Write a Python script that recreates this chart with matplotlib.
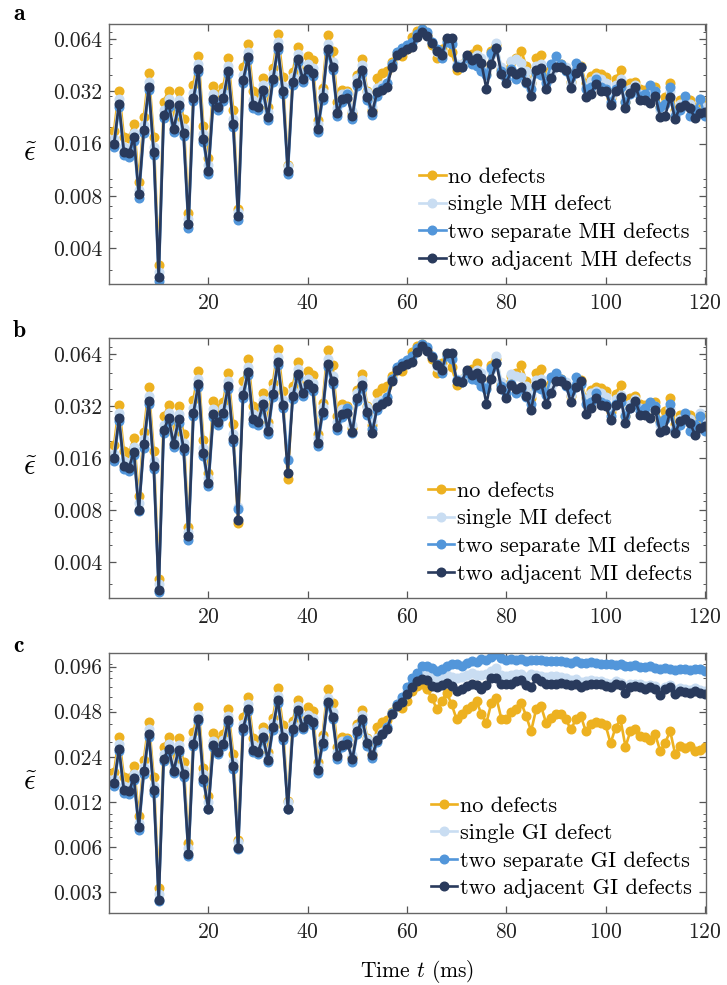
import numpy as np
import matplotlib
matplotlib.use('Agg')
import matplotlib.pyplot as plt
from matplotlib.ticker import FixedLocator, FixedFormatter, LogLocator, NullFormatter

plt.rcParams['font.family'] = 'cmr10'
plt.rcParams['mathtext.fontset'] = 'cm'
plt.rcParams['axes.formatter.use_mathtext'] = True

# time axis (ms)
time_ms = list(range(1, 121))

# no defects (same reference run in all three panels)
no_defects = [
    0.019, 0.0324, 0.0175, 0.0172, 0.0208, 0.0096, 0.0228, 0.0411, 0.0175, 0.0032,
    0.028, 0.0324, 0.022, 0.032, 0.0221, 0.0064, 0.0349, 0.0513, 0.0203, 0.0132,
    0.0344, 0.031, 0.034, 0.0497, 0.0251, 0.0067, 0.0445, 0.0601, 0.032, 0.030,
    0.0381, 0.026, 0.0436, 0.0686, 0.039, 0.0121, 0.0417, 0.0575, 0.040, 0.0513,
    0.0487, 0.022, 0.0334, 0.068, 0.055, 0.028, 0.0327, 0.032, 0.024, 0.0399,
    0.0491, 0.032, 0.025, 0.0381, 0.0408, 0.042, 0.0476, 0.053, 0.051, 0.0565,
    0.066, 0.0712, 0.073, 0.0677, 0.0596, 0.0497, 0.0565, 0.0643, 0.0537, 0.0426,
    0.046, 0.0497, 0.0525, 0.0565, 0.046, 0.0405, 0.0551, 0.0596, 0.0431, 0.0426,
    0.0476, 0.0497, 0.0551, 0.0449, 0.0356, 0.0497, 0.0522, 0.0405, 0.0434, 0.046,
    0.046, 0.0426, 0.0365, 0.0426, 0.045, 0.0356, 0.0395, 0.041, 0.0405, 0.039,
    0.0295, 0.0376, 0.0426, 0.028, 0.0356, 0.0365, 0.033, 0.0325, 0.031, 0.0338,
    0.0262, 0.0298, 0.0356, 0.0251, 0.0285, 0.0275, 0.0285, 0.0262, 0.0268, 0.0278]

# panel a: MH defects
single_mh = [
    0.017, 0.029, 0.0153, 0.015, 0.0185, 0.0087, 0.0205, 0.0365, 0.0154, 0.0029,
    0.0249, 0.029, 0.0207, 0.0286, 0.0196, 0.0059, 0.0312, 0.0458, 0.0183, 0.012,
    0.0308, 0.0278, 0.0312, 0.0448, 0.0221, 0.0065, 0.0398, 0.0537, 0.0286, 0.0276,
    0.0349, 0.0244, 0.0402, 0.0613, 0.0345, 0.0119, 0.0389, 0.0526, 0.0405, 0.0458,
    0.0435, 0.0208, 0.0317, 0.0597, 0.0475, 0.0258, 0.0308, 0.0312, 0.0247, 0.0381,
    0.0454, 0.0317, 0.0261, 0.0337, 0.0349, 0.036, 0.046, 0.053, 0.056, 0.059,
    0.061, 0.067, 0.072, 0.069, 0.062, 0.054, 0.054, 0.063, 0.062, 0.046,
    0.046, 0.051, 0.05, 0.052, 0.05, 0.041, 0.052, 0.061, 0.044, 0.04,
    0.048, 0.049, 0.047, 0.042, 0.036, 0.045, 0.046, 0.037, 0.041, 0.046,
    0.045, 0.044, 0.036, 0.043, 0.044, 0.034, 0.037, 0.039, 0.038, 0.036,
    0.03, 0.035, 0.038, 0.029, 0.033, 0.035, 0.031, 0.03, 0.031, 0.032,
    0.025, 0.027, 0.032, 0.024, 0.027, 0.028, 0.027, 0.025, 0.029, 0.026]
separate_mh = [
    0.0153, 0.0262, 0.0138, 0.0135, 0.0167, 0.0078, 0.0184, 0.0327, 0.0138, 0.0026,
    0.0224, 0.0261, 0.0186, 0.0257, 0.0177, 0.0052, 0.0281, 0.0413, 0.0164, 0.0107,
    0.0277, 0.025, 0.0281, 0.0403, 0.0199, 0.0058, 0.0358, 0.0484, 0.0257, 0.0249,
    0.0314, 0.022, 0.0362, 0.0552, 0.031, 0.0107, 0.035, 0.0473, 0.0365, 0.0413,
    0.0392, 0.0187, 0.0285, 0.0538, 0.0427, 0.0232, 0.0277, 0.031, 0.0223, 0.0343,
    0.0409, 0.0285, 0.0235, 0.0303, 0.0335, 0.036, 0.046, 0.054, 0.057, 0.059,
    0.062, 0.069, 0.073, 0.07, 0.062, 0.056, 0.05, 0.062, 0.06, 0.045,
    0.044, 0.05, 0.046, 0.045, 0.042, 0.04, 0.053, 0.057, 0.042, 0.038,
    0.043, 0.038, 0.04, 0.036, 0.033, 0.041, 0.04, 0.036, 0.046, 0.051,
    0.046, 0.042, 0.039, 0.047, 0.044, 0.033, 0.034, 0.038, 0.034, 0.033,
    0.028, 0.033, 0.034, 0.028, 0.031, 0.033, 0.03, 0.031, 0.035, 0.032,
    0.026, 0.027, 0.034, 0.023, 0.025, 0.030, 0.023, 0.025, 0.029, 0.023]
adjacent_mh = [
    0.016, 0.0272, 0.0144, 0.0141, 0.0174, 0.0082, 0.0192, 0.0341, 0.0144, 0.00273,
    0.0233, 0.0272, 0.0194, 0.0268, 0.0184, 0.0055, 0.0293, 0.043, 0.0171, 0.0112,
    0.0289, 0.026, 0.0293, 0.042, 0.0207, 0.0061, 0.0373, 0.0504, 0.0268, 0.0259,
    0.0327, 0.0229, 0.0377, 0.0575, 0.0323, 0.0112, 0.0365, 0.0493, 0.038, 0.043,
    0.0408, 0.0195, 0.0297, 0.056, 0.0445, 0.0242, 0.0289, 0.0293, 0.0232, 0.0357,
    0.0426, 0.0297, 0.0245, 0.0316, 0.0327, 0.0341, 0.0445, 0.052, 0.0543, 0.056,
    0.0575, 0.0662, 0.0708, 0.067, 0.0612, 0.055, 0.052, 0.065, 0.065, 0.0445,
    0.044, 0.052, 0.0487, 0.050, 0.0465, 0.033, 0.046, 0.0568, 0.0404, 0.0357,
    0.0422, 0.0404, 0.0413, 0.0365, 0.0302, 0.0426, 0.0436, 0.033, 0.0381, 0.0445,
    0.0445, 0.0426, 0.0337, 0.0411, 0.0445, 0.0297, 0.031, 0.0354, 0.0323, 0.032,
    0.0268, 0.0324, 0.036, 0.0256, 0.0313, 0.0341, 0.0284, 0.0284, 0.0274, 0.0302,
    0.0228, 0.0232, 0.0297, 0.0221, 0.0262, 0.0268, 0.0256, 0.0224, 0.024, 0.0245]

# panel b: MI defects
single_mi = [
    0.017, 0.029, 0.0153, 0.015, 0.0185, 0.0088, 0.0205, 0.0365, 0.0154, 0.003,
    0.0249, 0.029, 0.0207, 0.0286, 0.0196, 0.006, 0.0312, 0.0458, 0.0183, 0.0123,
    0.0308, 0.0278, 0.0312, 0.0448, 0.0221, 0.0083, 0.0398, 0.0537, 0.0286, 0.0276,
    0.0349, 0.0244, 0.0402, 0.0613, 0.0345, 0.0158, 0.0389, 0.0526, 0.0405, 0.0458,
    0.0435, 0.0208, 0.0317, 0.0597, 0.0475, 0.0258, 0.0308, 0.0312, 0.0247, 0.0381,
    0.0454, 0.0317, 0.0261, 0.0337, 0.0349, 0.036, 0.046, 0.053, 0.056, 0.059,
    0.061, 0.067, 0.072, 0.069, 0.062, 0.054, 0.054, 0.063, 0.062, 0.046,
    0.046, 0.051, 0.05, 0.052, 0.05, 0.041, 0.052, 0.062, 0.044, 0.041,
    0.049, 0.048, 0.047, 0.042, 0.037, 0.045, 0.046, 0.038, 0.041, 0.045,
    0.045, 0.044, 0.037, 0.043, 0.043, 0.035, 0.038, 0.039, 0.038, 0.036,
    0.031, 0.035, 0.037, 0.029, 0.033, 0.035, 0.031, 0.03, 0.031, 0.032,
    0.025, 0.027, 0.031, 0.024, 0.027, 0.028, 0.027, 0.025, 0.029, 0.026]
separate_mi = [
    0.0153, 0.0262, 0.0138, 0.0135, 0.0167, 0.0079, 0.0184, 0.0327, 0.0138, 0.0027,
    0.0224, 0.0261, 0.0186, 0.0257, 0.0177, 0.0054, 0.0281, 0.0413, 0.0164, 0.011,
    0.0277, 0.025, 0.0281, 0.0403, 0.0199, 0.0081, 0.0358, 0.0484, 0.0257, 0.0249,
    0.0314, 0.022, 0.0362, 0.0552, 0.031, 0.0155, 0.035, 0.0473, 0.0365, 0.0413,
    0.0392, 0.0187, 0.0285, 0.0538, 0.0427, 0.0232, 0.0277, 0.031, 0.0223, 0.0343,
    0.0409, 0.0285, 0.0235, 0.0303, 0.0335, 0.036, 0.046, 0.054, 0.057, 0.059,
    0.062, 0.069, 0.073, 0.07, 0.062, 0.056, 0.05, 0.062, 0.06, 0.045,
    0.044, 0.05, 0.046, 0.045, 0.042, 0.04, 0.053, 0.057, 0.042, 0.038,
    0.043, 0.038, 0.04, 0.036, 0.033, 0.041, 0.04, 0.037, 0.047, 0.05,
    0.046, 0.042, 0.039, 0.047, 0.043, 0.033, 0.034, 0.038, 0.034, 0.033,
    0.028, 0.033, 0.034, 0.028, 0.031, 0.033, 0.03, 0.031, 0.034, 0.032,
    0.026, 0.027, 0.033, 0.023, 0.025, 0.029, 0.023, 0.025, 0.028, 0.023]
adjacent_mi = [
    0.016, 0.0272, 0.0144, 0.0141, 0.0174, 0.008, 0.0192, 0.0341, 0.0144, 0.00276,
    0.0233, 0.0272, 0.0194, 0.0268, 0.0184, 0.0057, 0.0293, 0.043, 0.0171, 0.0115,
    0.0289, 0.026, 0.0293, 0.042, 0.0207, 0.007, 0.0373, 0.0504, 0.0268, 0.0259,
    0.0327, 0.0229, 0.0377, 0.0575, 0.0323, 0.0132, 0.0365, 0.0493, 0.038, 0.043,
    0.0408, 0.0195, 0.0297, 0.056, 0.0445, 0.0242, 0.0289, 0.0293, 0.0228, 0.0357,
    0.0426, 0.0297, 0.0223, 0.0316, 0.0327, 0.0341, 0.0445, 0.052, 0.0543, 0.056,
    0.0575, 0.0662, 0.0708, 0.067, 0.0612, 0.055, 0.052, 0.065, 0.065, 0.0445,
    0.044, 0.052, 0.0487, 0.050, 0.0465, 0.033, 0.046, 0.0568, 0.0404, 0.0357,
    0.0422, 0.0404, 0.0413, 0.0365, 0.0305, 0.0426, 0.0436, 0.033, 0.0381, 0.0445,
    0.0445, 0.0426, 0.0337, 0.0411, 0.0445, 0.0288, 0.031, 0.0354, 0.0323, 0.032,
    0.0267, 0.0324, 0.036, 0.0255, 0.0313, 0.0341, 0.0284, 0.0284, 0.0274, 0.0302,
    0.0226, 0.0232, 0.0297, 0.0223, 0.0262, 0.0268, 0.0256, 0.0218, 0.024, 0.0244]

# panel c: GI defects
single_gi = [
    0.017, 0.029, 0.0153, 0.015, 0.0185, 0.0087, 0.0205, 0.0365, 0.0154, 0.0029,
    0.0249, 0.029, 0.0207, 0.0286, 0.0196, 0.0059, 0.0312, 0.0458, 0.0183, 0.012,
    0.0308, 0.0278, 0.0312, 0.0448, 0.0221, 0.0065, 0.0398, 0.0537, 0.0286, 0.0276,
    0.0349, 0.0244, 0.0402, 0.0613, 0.0345, 0.0119, 0.0389, 0.0526, 0.0405, 0.0458,
    0.0435, 0.0208, 0.0317, 0.0597, 0.0475, 0.0258, 0.0308, 0.0312, 0.0247, 0.0381,
    0.0454, 0.0317, 0.0261, 0.032, 0.035, 0.038, 0.047, 0.053, 0.058, 0.066,
    0.074, 0.082, 0.0875, 0.086, 0.082, 0.08, 0.082, 0.085, 0.082, 0.08,
    0.082, 0.085, 0.087, 0.085, 0.085, 0.086, 0.09, 0.094, 0.085, 0.083,
    0.084, 0.086, 0.0853, 0.082, 0.0853, 0.084, 0.083, 0.082, 0.083, 0.083,
    0.082, 0.08, 0.078, 0.079, 0.076, 0.077, 0.078, 0.077, 0.077, 0.075,
    0.074, 0.077, 0.075, 0.069, 0.073, 0.074, 0.073, 0.071, 0.072, 0.071,
    0.066, 0.07, 0.072, 0.067, 0.069, 0.068, 0.067, 0.069, 0.067, 0.066]
separate_gi = [
    0.0153, 0.0262, 0.0138, 0.0135, 0.0167, 0.0078, 0.0184, 0.0327, 0.0138, 0.0026,
    0.0224, 0.0261, 0.0186, 0.0257, 0.0177, 0.0052, 0.0281, 0.0413, 0.0164, 0.0107,
    0.0277, 0.025, 0.0281, 0.0403, 0.0199, 0.0058, 0.0358, 0.0484, 0.0257, 0.0249,
    0.0314, 0.022, 0.0362, 0.0552, 0.031, 0.0107, 0.035, 0.0473, 0.0365, 0.0413,
    0.0392, 0.0187, 0.0285, 0.0538, 0.0427, 0.0232, 0.0277, 0.031, 0.0223, 0.0343,
    0.0409, 0.0285, 0.0235, 0.030, 0.034, 0.038, 0.047, 0.054, 0.06, 0.07,
    0.08, 0.0875, 0.0969, 0.097, 0.094, 0.09, 0.092, 0.097, 0.0995, 0.0995,
    0.097, 0.102, 0.104, 0.103, 0.1086, 0.107, 0.112, 0.116, 0.11, 0.106,
    0.108, 0.107, 0.108, 0.105, 0.107, 0.106, 0.107, 0.104, 0.105, 0.104,
    0.105, 0.103, 0.102, 0.104, 0.102, 0.101, 0.103, 0.101, 0.1, 0.0995,
    0.1, 0.098, 0.1, 0.097, 0.097, 0.098, 0.096, 0.095, 0.097, 0.0946,
    0.092, 0.094, 0.093, 0.091, 0.092, 0.093, 0.091, 0.092, 0.093, 0.0897]
adjacent_gi = [
    0.016, 0.0272, 0.0144, 0.0141, 0.0174, 0.0082, 0.0192, 0.0341, 0.0144, 0.00265,
    0.0233, 0.0272, 0.0194, 0.0268, 0.0184, 0.0054, 0.0293, 0.043, 0.0171, 0.0108,
    0.0289, 0.026, 0.0293, 0.042, 0.0207, 0.0059, 0.0373, 0.0504, 0.0268, 0.0259,
    0.0327, 0.0229, 0.0377, 0.0575, 0.0323, 0.0108, 0.0365, 0.0493, 0.038, 0.043,
    0.0408, 0.0195, 0.0297, 0.056, 0.0445, 0.0242, 0.0289, 0.0293, 0.0232, 0.0357,
    0.0426, 0.0297, 0.0245, 0.031, 0.034, 0.037, 0.046, 0.052, 0.056, 0.063,
    0.07, 0.0769, 0.0798, 0.078, 0.0712, 0.07, 0.072, 0.075, 0.0712, 0.066,
    0.068, 0.071, 0.073, 0.072, 0.0685, 0.072, 0.081, 0.080, 0.073, 0.074,
    0.073, 0.0769, 0.078, 0.072, 0.070, 0.080, 0.077, 0.073, 0.074, 0.073,
    0.075, 0.074, 0.072, 0.074, 0.070, 0.072, 0.073, 0.074, 0.073, 0.071,
    0.07, 0.074, 0.072, 0.0643, 0.07, 0.071, 0.07, 0.068, 0.07, 0.068,
    0.0617, 0.068, 0.07, 0.063, 0.066, 0.065, 0.064, 0.066, 0.064, 0.0627]

colors = ['#EDB120', '#C9DDF2', '#5296DA', '#293A5C']

panels = [
    dict(tag='a', kind='MH', series=[no_defects, single_mh, separate_mh, adjacent_mh],
         ylim=(0.00249, 0.0784), yticks=[0.004, 0.008, 0.016, 0.032, 0.064],
         rect=[0.150, 0.7117, 0.821, 0.264], tag_y=0.9797),
    dict(tag='b', kind='MI', series=[no_defects, single_mi, separate_mi, adjacent_mi],
         ylim=(0.00248, 0.079), yticks=[0.004, 0.008, 0.016, 0.032, 0.064],
         rect=[0.150, 0.3929, 0.821, 0.2637], tag_y=0.6576),
    dict(tag='c', kind='GI', series=[no_defects, single_gi, separate_gi, adjacent_gi],
         ylim=(0.00218, 0.119), yticks=[0.003, 0.006, 0.012, 0.024, 0.048, 0.096],
         rect=[0.150, 0.0734, 0.821, 0.264], tag_y=0.3384),
]

fig = plt.figure(figsize=(7.27, 9.85), dpi=100)

for p in panels:
    ax = fig.add_axes(p['rect'])
    labels = ['no defects', 'single %s defect' % p['kind'],
              'two separate %s defects' % p['kind'], 'two adjacent %s defects' % p['kind']]
    for vals, lab, col in zip(p['series'], labels, colors):
        ax.plot(time_ms, vals, '-o', color=col, lw=1.9, ms=6.2, label=lab)

    ax.set_yscale('log')
    ax.set_xlim(0, 120.2)
    ax.set_ylim(*p['ylim'])
    ax.yaxis.set_major_locator(FixedLocator(p['yticks']))
    ax.yaxis.set_major_formatter(FixedFormatter(['%g' % v for v in p['yticks']]))
    ax.yaxis.set_minor_locator(LogLocator(base=10, subs=np.arange(1, 10) * 1.0, numticks=30))
    ax.yaxis.set_minor_formatter(NullFormatter())
    ax.set_xticks([20, 40, 60, 80, 100, 120])

    ax.tick_params(which='both', direction='in', top=True, right=True,
                   color='#555555', labelcolor='#222222', labelsize=15.5)
    ax.tick_params(which='major', length=5, width=0.9)
    ax.tick_params(axis='y', which='major', pad=5)
    ax.tick_params(axis='x', which='major', pad=7)
    ax.tick_params(which='minor', length=2.5, width=0.7)
    for s in ax.spines.values():
        s.set_color('#666666')
        s.set_linewidth(1.0)

    ax.text(-0.132, 0.5, r'$\tilde{\epsilon}$', transform=ax.transAxes,
            fontsize=21, ha='center', va='center')
    fig.text(0.0179, p['tag_y'], p['tag'], fontsize=17, family='cmb10',
             ha='left', va='baseline')

    ax.legend(loc='lower right', frameon=False, fontsize=16, handlelength=1.2,
              handletextpad=0.1, labelspacing=0.36, borderaxespad=0.4, borderpad=0.25)

    if p['tag'] == 'c':
        ax.set_xlabel(r'Time $t$ (ms)', fontsize=15.5)
        ax.xaxis.set_label_coords(0.516, -0.175)

fig.savefig('out.png', dpi=100)
